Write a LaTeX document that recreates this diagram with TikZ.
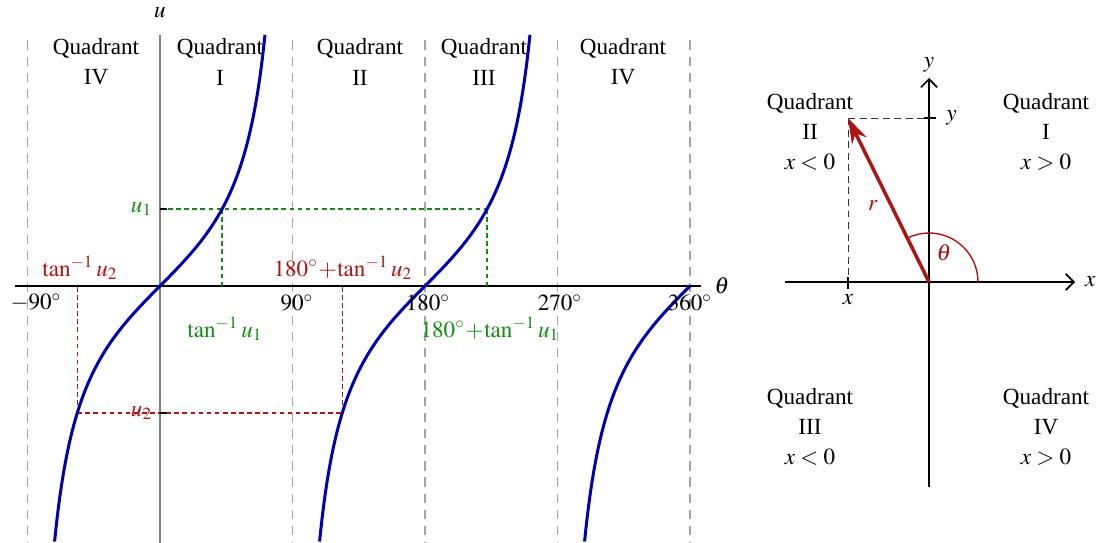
\documentclass[tikz,border=0pt]{standalone}
\usepackage{mathptmx}
\usepackage{fontspec}
\setmainfont{Liberation Serif}
\usetikzlibrary{arrows.meta}
\definecolor{curveblue}{RGB}{0, 0, 178}
\definecolor{invred}{RGB}{175, 20, 20}
\definecolor{invgreen}{RGB}{20, 140, 20}
\definecolor{gridgray}{RGB}{165, 165, 165}

\begin{document}
\begin{tikzpicture}[x=0.0152cm, y=0.0152cm,
    quadlabel/.style={align=center, inner sep=0pt},
    gridline/.style={gridgray, line width=0.5pt, dash pattern=on 4pt off 3pt},
    uaxis/.style={gray, line width=0.9pt},
    thetaaxis/.style={black, line width=0.6pt},
    tancurve/.style={curveblue, line width=1.3pt},
    guide/.style={line width=0.65pt, dash pattern=on 2pt off 1.5pt},
    axisarrow/.style={black, line width=0.7pt, -{Straight Barb[length=3.5pt, width=7pt]}},
    proj/.style={black!80, line width=0.4pt, dash pattern=on 3pt off 2pt},
    vector/.style={invred, line width=1.5pt, -{Stealth[length=11pt, width=7pt]}}]
\useasboundingbox (0,0) rectangle (1099,542);

\begin{scope}[shift={(160,256)}, xscale=1.4722, yscale=85]
    \pgfmathsetmacro\uone{0.906}
    \pgfmathsetmacro\utwo{-1.494}
    \pgfmathsetmacro\thone{atan(\uone)}
    \pgfmathsetmacro\thtwo{atan(\utwo)}
    \foreach \t in {-90,90,180,270,360}
        \draw[gridline] (\t,2.89) -- (\t,-3.05);
    \draw[uaxis] (0,-3.05) -- (0,2.953);
    \draw[thetaaxis] (-98.5,0) -- (367.5,0);
    \coordinate (U1) at (0,\uone);
    \coordinate (A1) at (\thone,\uone);
    \coordinate (B1) at ({\thone+180},\uone);
    \coordinate (A1x) at (\thone,0);
    \coordinate (B1x) at ({\thone+180},0);
    \coordinate (U2) at (0,\utwo);
    \coordinate (A2) at (\thtwo,\utwo);
    \coordinate (B2) at ({\thtwo+180},\utwo);
    \coordinate (A2x) at (\thtwo,0);
    \coordinate (B2x) at ({\thtwo+180},0);
    \draw[guide, invgreen] (U1) -- (B1);
    \draw[guide, invgreen] (A1) -- (A1x);
    \draw[guide, invgreen] (B1) -- (B1x);
    \draw[guide, invred] (A2) -- (B2);
    \draw[guide, invred] (A2) -- (A2x);
    \draw[guide, invred] (B2) -- (B2x);
    \draw[line width=0.5pt] (U1) -- ++(2pt,0);
    \draw[line width=0.5pt] (U2) -- ++(2pt,0);
    \draw[tancurve] plot[domain=-71.6:71.3, samples=120, smooth] (\x,{tan(\x)});
    \draw[tancurve] plot[domain=108.4:251.3, samples=120, smooth] (\x,{tan(\x)});
    \draw[tancurve] plot[domain=288.4:360, samples=80, smooth] (\x,{tan(\x)});
\end{scope}

\node (ulab) at (160,529) {$u$};
\node (thetalab) at (722,256) {$\theta$};
\node[quadlabel] (qleftIVa) at (96,480) {Quadrant\\[1pt]IV};
\node[quadlabel] (qleftI) at (220,480) {Quadrant\\[1pt]I};
\node[quadlabel] (qleftII) at (360,480) {Quadrant\\[1pt]II};
\node[quadlabel] (qleftIII) at (484,480) {Quadrant\\[1pt]III};
\node[quadlabel] (qleftIVb) at (623,480) {Quadrant\\[1pt]IV};
\node (tickm90) at (36,239) {$-90^\circ$};
\node (tick90) at (297,239) {$90^\circ$};
\node (tick180) at (428,239) {$180^\circ$};
\node (tick270) at (560,239) {$270^\circ$};
\node (tick360) at (690,239) {$360^\circ$};
\node[invgreen, left, inner sep=1pt] (uonelab) at (155,333) {$u_1$};
\node[invred, left, inner sep=1pt] (utwolab) at (155,129) {$u_2$};
\node[invgreen] (aonelab) at (225,213) {$\tan^{-1}u_1$};
\node[invgreen] (bonelab) at (490,213) {$180^\circ\!+\!\tan^{-1}u_1$};
\node[invred] (atwolab) at (80,274) {$\tan^{-1}u_2$};
\node[invred] (btwolab) at (343,274) {$180^\circ\!+\!\tan^{-1}u_2$};

\begin{scope}[shift={(929,260)}]
    \coordinate (O) at (0,0);
    \coordinate (P) at (-81,164);
    \coordinate (Py) at (0,164);
    \coordinate (Px) at (-81,0);
    \draw[axisarrow] (-144,0) -- (146,0) node[right, inner sep=4pt] (xlab) {$x$};
    \draw[axisarrow] (0,-205) -- (0,204) node[above, inner sep=2pt] (ylab) {$y$};
    \draw[proj] (P) -- (Py);
    \draw[proj] (P) -- (Px);
    \draw[line width=0.7pt] ([xshift=-2pt]Py) -- ([xshift=3pt]Py);
    \draw[line width=0.7pt] ([yshift=-3pt]Px) -- ([yshift=2pt]Px);
    \node[right] (ytick) at ([xshift=4pt]Py) {$y$};
    \node[below, inner sep=2pt] (xtick) at ([yshift=-3pt]Px) {$x$};
    \draw[invred, line width=0.6pt] (49,0) arc[start angle=0, end angle=116.3, radius=49];
    \draw[vector] (O) -- (P);
    \node[invred] (thlab) at (15,29) {$\theta$};
    \node[invred] (rlab) at (-56,77) {$r$};
\end{scope}

\node[quadlabel] (qII) at (810,410) {Quadrant\\[1pt]II\\[1pt]$x<0$};
\node[quadlabel] (qI) at (1046,410) {Quadrant\\[1pt]I\\[1pt]$x>0$};
\node[quadlabel] (qIII) at (810,115) {Quadrant\\[1pt]III\\[1pt]$x<0$};
\node[quadlabel] (qIV) at (1046,115) {Quadrant\\[1pt]IV\\[1pt]$x>0$};
\end{tikzpicture}
\end{document}
